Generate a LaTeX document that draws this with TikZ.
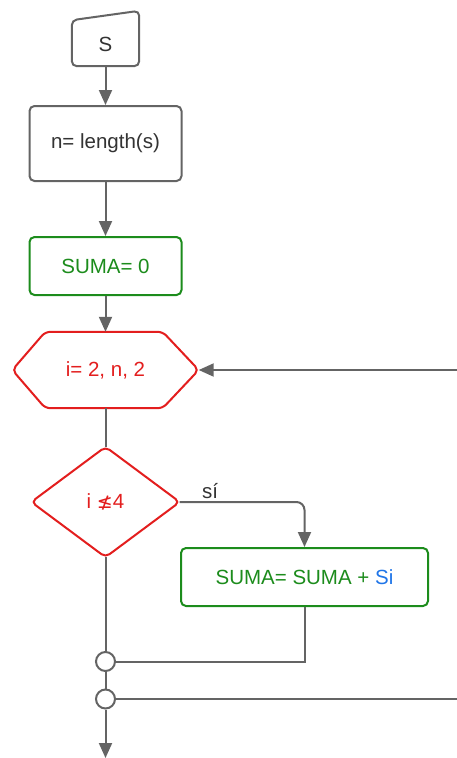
\documentclass[tikz,border=0pt]{standalone}
\usepackage{fontspec}
\setmainfont{Liberation Sans}
\newfontfamily\symfont{DejaVu Sans}
\usetikzlibrary{arrows.meta,calc}
\definecolor{cgray}{HTML}{646464}
\definecolor{ctext}{HTML}{333333}
\definecolor{cgreen}{HTML}{1C8C1C}
\definecolor{cred}{HTML}{E31E1E}
\definecolor{cblue}{HTML}{1F75E8}
\begin{document}
\begin{tikzpicture}[x=1pt,y=-1pt,
  conn/.style={draw=cgray, line width=2pt},
  arr/.style={conn, -{Triangle[length=15pt,width=13pt]}},
  lbl/.style={font=\fontsize{20.5}{24}\selectfont, inner sep=0pt},
  frame/.style={rectangle, inner sep=0pt, font=\fontsize{20.5}{24}\selectfont},
  box/.style={frame, rounded corners=5pt, draw, line width=2pt, fill=white},
  outline/.style={line width=2pt, rounded corners=5pt, fill=white},
  junction/.style={circle, draw=cgray, line width=2pt, fill=white, minimum size=19pt, inner sep=0pt}]
\useasboundingbox (0,0) rectangle (457,758);

% S (manual input)
\node[frame, minimum width=67pt, minimum height=50pt, text=ctext] (S) at (105.5,41) {};
\draw[outline, draw=cgray] (S.south west) -- ($(S.south west)+(0,-46)$) -- ($(S.north east)+(0,-5)$) -- (S.south east) -- cycle;
\node[lbl, text=ctext] at ($(S.center)+(0,3)$) {S};

% boxes
\node[box, draw=cgray, text=ctext, minimum width=152pt, minimum height=75pt] (n) at (105.5,143.5) {n= length(s)};
\node[box, draw=cgreen, text=cgreen, minimum width=152pt, minimum height=58pt] (suma0) at (105.5,266) {SUMA= 0};

% hexagon
\node[frame, minimum width=186pt, minimum height=76pt] (h) at (105.5,370) {};
\draw[outline, draw=cred] (h.west) -- ([xshift=33pt]h.north west) -- ([xshift=-36pt]h.north east) -- (h.east) -- ([xshift=-36pt]h.south east) -- ([xshift=33pt]h.south west) -- cycle;
\node[lbl, text=cred] at (h.center) {i= 2, n, 2};

% diamond
\node[frame, minimum width=148pt, minimum height=110pt] (d) at (105.5,502) {};
\draw[outline, draw=cred] (d.north) -- (d.east) -- (d.south) -- (d.west) -- cycle;
\node[lbl, text=cred] at (d.center) {i {\symfont\fontsize{19}{22}\selectfont ≰}4};

% SUMA = SUMA + Si
\node[box, draw=cgreen, text=cgreen, minimum width=247pt, minimum height=58pt] (acc) at (304.5,577) {SUMA= SUMA + \textcolor{cblue}{Si}};

% junctions
\node[junction] (j1) at (105.5,661.5) {};
\node[junction] (j2) at (105.5,699) {};

\coordinate (loopin) at (457,370);
\coordinate (loopout) at (457,699);
\coordinate (endpt) at (105.5,758);

% connectors
\draw[arr] (S.south) -- (n.north);
\draw[arr] (n.south) -- (suma0.north);
\draw[arr] (suma0.south) -- (h.north);
\draw[arr] (loopin) -- (h.east);
\draw[conn] (h.south) -- (d.north);
\draw[arr, rounded corners=8pt] (d.east) -- (acc.north |- d.east) -- (acc.north);
\node[lbl, text=ctext] at (210,491) {sí};
\draw[conn] (acc.south) |- (j1.east);
\draw[conn] (d.south) -- (j1.north);
\draw[conn] (j1.south) -- (j2.north);
\draw[conn] (j2.east) -- (loopout);
\draw[arr] (j2.south) -- (endpt);
\end{tikzpicture}
\end{document}
